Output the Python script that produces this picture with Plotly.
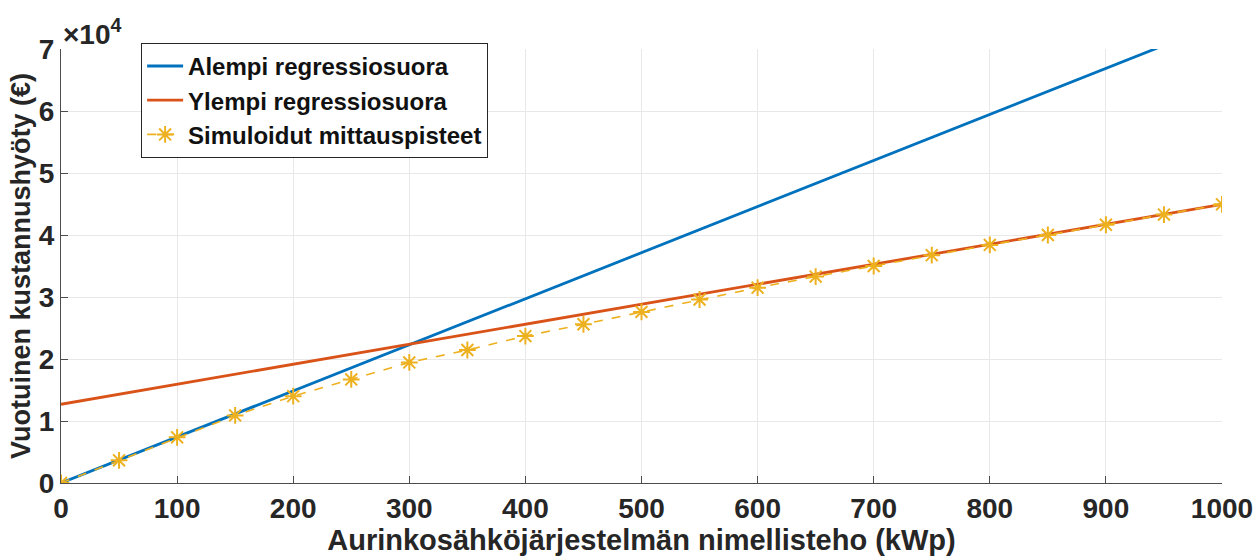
import plotly.graph_objects as go

# Simulated annual cost benefit (€) per nominal PV system power (kWp)
power_kwp = [0, 50, 100, 150, 200, 250, 300, 350, 400, 450, 500,
             550, 600, 650, 700, 750, 800, 850, 900, 950, 1000]
benefit_eur = [0, 3660, 7370, 10900, 14000, 16700, 19450, 21450, 23700, 25600, 27600,
               29600, 31500, 33300, 35000, 36750, 38400, 40000, 41650, 43300, 44950]

# Regression lines, given by their end points
lower_x = [0, 1000]
lower_y = [0, 74300]
upper_x = [0, 1000]
upper_y = [12700, 44950]

y_ticks = [0, 10000, 20000, 30000, 40000, 50000, 60000, 70000]
y_tick_text = ["0", "1", "2", "3", "4", "5", "6", "7"]
x_ticks = [0, 100, 200, 300, 400, 500, 600, 700, 800, 900, 1000]

BLUE = "#0072BD"
ORANGE = "#D95319"
GOLD = "#EDB120"
FAMILY = "Liberation Sans, Arial, sans-serif"
TEXT = "#262626"
TICK_FONT = dict(family=FAMILY, size=28, color=TEXT, weight="bold")
LEGEND_FONT = dict(family=FAMILY, size=24, color="#111111", weight="bold")

fig = go.Figure()
fig.add_trace(go.Scatter(x=lower_x, y=lower_y, mode="lines", name="Alempi regressiosuora",
                         line=dict(color=BLUE, width=2.8)))
fig.add_trace(go.Scatter(x=upper_x, y=upper_y, mode="lines", name="Ylempi regressiosuora",
                         line=dict(color=ORANGE, width=2.8)))
fig.add_trace(go.Scatter(x=power_kwp, y=benefit_eur, mode="lines+markers",
                         name="Simuloidut mittauspisteet",
                         line=dict(color=GOLD, width=1.6, dash="dash"),
                         marker=dict(symbol="asterisk-open", size=14, color=GOLD,
                                     line=dict(color=GOLD, width=2))))

axis_common = dict(showgrid=True, gridcolor="#e8e8e8", gridwidth=1, zeroline=False,
                   showline=True, linecolor="#4d4d4d", linewidth=1.2,
                   ticks="inside", ticklen=7, tickcolor="#4d4d4d", tickwidth=1,
                   tickfont=TICK_FONT, automargin=False)

fig.update_xaxes(range=[0, 1000], tickvals=x_ticks, **axis_common,
                 title=dict(text="Aurinkosähköjärjestelmän nimellisteho (kWp)",
                            font=dict(family=FAMILY, size=29, color=TEXT, weight="bold"),
                            standoff=4))
fig.update_yaxes(range=[0, 70000], tickvals=y_ticks, ticktext=y_tick_text, **axis_common,
                 title=dict(text="Vuotuinen kustannushyöty (€)",
                            font=dict(family=FAMILY, size=27, color=TEXT, weight="bold"),
                            standoff=0))

fig.add_annotation(text="×10<sup>4</sup>", xref="paper", yref="paper", x=0.0, y=1.0,
                   xanchor="left", yanchor="bottom", yshift=-3, showarrow=False,
                   font=dict(family=FAMILY, size=28, color=TEXT, weight="bold"))

fig.update_layout(
    width=1258, height=557,
    margin=dict(l=61, r=36, t=49, b=74),
    plot_bgcolor="white", paper_bgcolor="white",
    legend=dict(x=0.069, y=1.014, xanchor="left", yanchor="top",
                bgcolor="white", bordercolor="#262626", borderwidth=1,
                font=LEGEND_FONT, itemwidth=36, tracegroupgap=0),
    showlegend=True,
)

fig.write_html("out.html")
